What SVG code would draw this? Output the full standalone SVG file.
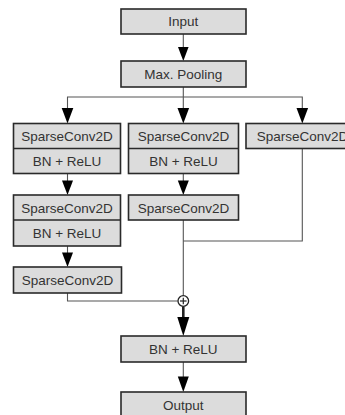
<svg xmlns="http://www.w3.org/2000/svg" width="345" height="415" viewBox="0 0 345 415">
  <style>
    .box { fill: #dcdcdc; stroke: #2a2a2a; stroke-width: 1.6; }
    .div { stroke: #2a2a2a; stroke-width: 1.6; }
    .lbl { font-family: "Liberation Sans", Arial, sans-serif; font-size: 13.5px; fill: #333; text-anchor: middle; }
    .wire { fill: none; stroke: #555; stroke-width: 1.1; }
    .wire-bold { fill: none; stroke: #222; stroke-width: 2.6; }
    .head { fill: #000; }
  </style>
  <rect width="345" height="415" fill="#fff"/>

  <g id="connectors">
    <!-- Input to pooling -->
    <line class="wire" x1="183.3" y1="34" x2="183.3" y2="50"/>
    <polygon class="head" points="178,47 188.6,47 183.3,61"/>
    <!-- fan-out from pooling -->
    <polyline class="wire" points="183.3,87 183.3,97"/>
    <polyline class="wire" points="67.5,110 67.5,97 302.3,97 302.3,110"/>
    <line class="wire" x1="183.3" y1="97" x2="183.3" y2="110"/>
    <polygon class="head" points="61.7,108 73.3,108 67.5,123.5"/>
    <polygon class="head" points="177.5,108 189.1,108 183.3,123.5"/>
    <polygon class="head" points="296.5,108 308.1,108 302.3,123.5"/>
    <!-- left branch -->
    <line class="wire" x1="67.5" y1="173.5" x2="67.5" y2="182"/>
    <polygon class="head" points="62,180.5 73,180.5 67.5,195"/>
    <line class="wire" x1="67.5" y1="246" x2="67.5" y2="254"/>
    <polygon class="head" points="62,252.5 73,252.5 67.5,267"/>
    <polyline class="wire" points="67.5,293 67.5,301 177.8,301"/>
    <!-- middle branch -->
    <line class="wire" x1="183.3" y1="173.5" x2="183.3" y2="182"/>
    <polygon class="head" points="177.8,180.5 188.8,180.5 183.3,195"/>
    <line class="wire" x1="183.3" y1="220" x2="183.3" y2="295.5"/>
    <!-- right branch -->
    <polyline class="wire" points="302.3,148.5 302.3,241 183.3,241"/>
    <!-- after sum -->
    <line class="wire-bold" x1="183.3" y1="306.5" x2="183.3" y2="320"/>
    <polygon class="head" points="177.3,317 189.3,317 183.3,336"/>
    <line class="wire" x1="183.3" y1="362" x2="183.3" y2="378"/>
    <polygon class="head" points="177.8,376.5 188.8,376.5 183.3,392"/>
  </g>

  <g id="sum">
    <circle cx="183.3" cy="301" r="5.3" fill="#fff" stroke="#222" stroke-width="1.3"/>
    <line x1="180" y1="301" x2="186.6" y2="301" stroke="#222" stroke-width="1.2"/>
    <line x1="183.3" y1="297.7" x2="183.3" y2="304.3" stroke="#222" stroke-width="1.2"/>
  </g>

  <g id="input">
    <rect class="box" x="121" y="9" width="125" height="25"/>
    <text class="lbl" x="183.3" y="26.3">Input</text>
  </g>
  <g id="pooling">
    <rect class="box" x="121" y="61" width="125" height="26"/>
    <text class="lbl" x="183.3" y="78.8">Max. Pooling</text>
  </g>

  <g id="left-block-1">
    <rect class="box" x="13.5" y="123.5" width="107" height="50"/>
    <line class="div" x1="13.5" y1="148.5" x2="120.5" y2="148.5"/>
    <text class="lbl" x="67" y="141">SparseConv2D</text>
    <text class="lbl" x="67" y="166">BN + ReLU</text>
  </g>
  <g id="mid-block-1">
    <rect class="box" x="128.5" y="123.5" width="110" height="50"/>
    <line class="div" x1="128.5" y1="148.5" x2="238.5" y2="148.5"/>
    <text class="lbl" x="183.5" y="141">SparseConv2D</text>
    <text class="lbl" x="183.5" y="166">BN + ReLU</text>
  </g>
  <g id="right-block">
    <rect class="box" x="246" y="123.5" width="113" height="25"/>
    <text class="lbl" x="302.5" y="141">SparseConv2D</text>
  </g>

  <g id="left-block-2">
    <rect class="box" x="13.5" y="195" width="107" height="51"/>
    <line class="div" x1="13.5" y1="220" x2="120.5" y2="220"/>
    <text class="lbl" x="67" y="212.5">SparseConv2D</text>
    <text class="lbl" x="67" y="238">BN + ReLU</text>
  </g>
  <g id="mid-block-2">
    <rect class="box" x="128.5" y="195" width="110" height="25"/>
    <text class="lbl" x="183.5" y="212.5">SparseConv2D</text>
  </g>

  <g id="left-block-3">
    <rect class="box" x="13.5" y="267" width="108" height="26"/>
    <text class="lbl" x="67.5" y="284.8">SparseConv2D</text>
  </g>

  <g id="bn-relu">
    <rect class="box" x="121" y="336" width="125" height="26"/>
    <text class="lbl" x="183.3" y="353.8">BN + ReLU</text>
  </g>
  <g id="output">
    <rect class="box" x="121" y="392" width="125" height="27"/>
    <text class="lbl" x="183.3" y="409.5">Output</text>
  </g>
</svg>
